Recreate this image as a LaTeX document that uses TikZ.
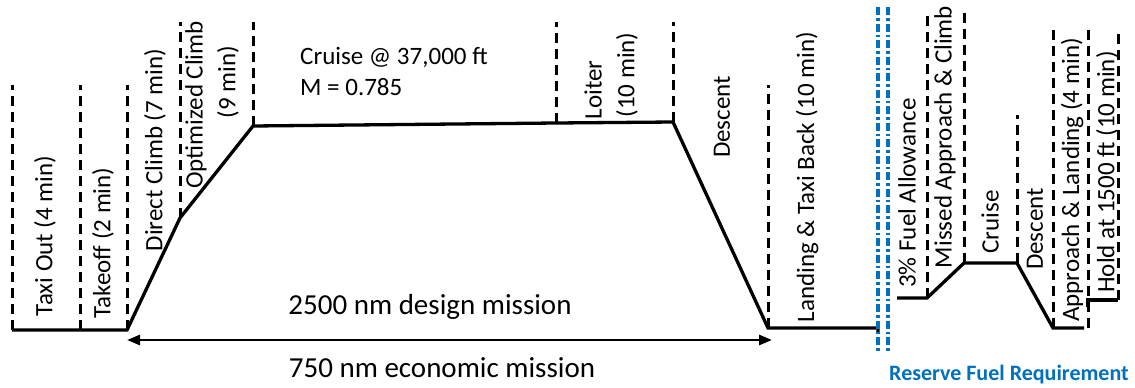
\documentclass[tikz,border=0pt]{standalone}
\usepackage{fontspec}
\setmainfont{Carlito}
\usetikzlibrary{arrows.meta}
\definecolor{resblue}{RGB}{0,112,192}
\tikzset{
  prof/.style={line width=3.3pt, line join=miter},
  sep/.style={line width=3pt, dash pattern=on 10pt off 6pt},
  bluesep/.style={resblue, line width=3.4pt, dash pattern=on 8pt off 3pt on 2.5pt off 3pt},
  vlab/.style={rotate=90, font=\fontsize{25}{25}\selectfont, inner sep=0pt},
  hlab/.style={font=\fontsize{25}{25}\selectfont, inner sep=0pt},
  biglab/.style={font=\fontsize{29}{29}\selectfont, inner sep=0pt},
  reslab/.style={font=\fontsize{22}{22}\selectfont\bfseries, text=resblue, inner sep=0pt},
  rangearrow/.style={line width=2.8pt, {Triangle[length=13pt,width=10pt]}-{Triangle[length=13pt,width=10pt]}}
}
\begin{document}
\begin{tikzpicture}[x=1pt,y=-1pt]
\useasboundingbox (0,0) rectangle (1135,388);
% main profile points
\coordinate (p0) at (12,330);
\coordinate (p1) at (80,330);
\coordinate (p2) at (127,330);
\coordinate (p3) at (180,218);
\coordinate (p4) at (253,126);
\coordinate (p5) at (556,123);
\coordinate (p6) at (673,122);
\coordinate (p7) at (768,328);
\coordinate (p8) at (878,328);
\coordinate (p8b) at (878,333);
% tops of separators
\coordinate (t0) at (12,85);
\coordinate (t1) at (80,85);
\coordinate (t2) at (127,85);
\coordinate (t3) at (180,22);
\coordinate (t4) at (253,22);
\coordinate (t5) at (556,22);
\coordinate (t6) at (673,22);
\coordinate (t7) at (768,85);
% profile
\draw[prof] (p0) -- (p1) -- (p2) -- (p3) -- (p4) -- (p5) -- (p6) -- (p7) -- (p8) -- (p8b);
% separators
\foreach \i in {0,...,7} \draw[sep] (p\i) -- (t\i);
% blue reserve separators
\coordinate (b1t) at (878,7); \coordinate (b1b) at (878,352);
\coordinate (b2t) at (888,7); \coordinate (b2b) at (888,352);
\draw[bluesep] (b1t) -- (b1b);
\draw[bluesep] (b2t) -- (b2b);
% reserve profile
\coordinate (r0) at (897,298);
\coordinate (r1) at (927,298);
\coordinate (r2) at (964,263);
\coordinate (r3) at (1017,263);
\coordinate (r4) at (1053,328);
\coordinate (r5) at (1084,328);
\coordinate (h0) at (1088,307);
\coordinate (h1) at (1088,300);
\coordinate (h2) at (1118,300);
\draw[prof] (r0) -- (r1) -- (r2) -- (r3) -- (r4) -- (r5);
\draw[prof] (h0) -- (h1) -- (h2);
% reserve separators
\coordinate (s1) at (927,13);
\coordinate (s2) at (964,13);
\coordinate (s3) at (1017,115);
\coordinate (s4a) at (1053,25);
\coordinate (s5a) at (1088,25); \coordinate (s5b) at (1088,328);
\coordinate (s6a) at (1118,33);
\draw[sep] (r1) -- (s1);
\draw[sep] (r2) -- (s2);
\draw[sep] (r3) -- (s3);
\draw[sep] (r4) -- (s4a);
\draw[sep] (s5b) -- (s5a);
\draw[sep] (h2) -- (s6a);
% range arrow
\coordinate (a0) at (127,340);
\coordinate (a1) at (772,340);
\draw[rangearrow] (a0) -- (a1);
% labels main
\node[vlab] (lTaxi) at (45,236) {Taxi Out (4 min)};
\node[vlab] (lTake) at (103,243) {Takeoff (2 min)};
\node[vlab] (lDir) at (155,150) {Direct Climb (7 min)};
\node[vlab] (lOpt) at (196,105) {Optimized Climb};
\node[vlab] (lOpt2) at (228,82) {(9 min)};
\node[hlab, anchor=west] (lCr) at (300,57) {Cruise @ 37,000 ft};
\node[hlab, anchor=west] (lM) at (300,87) {M = 0.785};
\node[vlab] (lLo) at (593,90) {Loiter};
\node[vlab] (lLo2) at (627,75) {(10 min)};
\node[vlab] (lDe) at (722,117) {Descent};
\node[vlab] (lLa) at (807,177) {Landing \& Taxi Back (10 min)};
\node[biglab] (lDes) at (430,307) {2500 nm design mission};
\node[biglab] (lEco) at (442,368) {750 nm economic mission};
% reserve labels
\node[vlab] (rA) at (907,193) {3\% Fuel Allowance};
\node[vlab] (rB) at (945,137) {Missed Approach \& Climb};
\node[vlab] (rC) at (990,222) {Cruise};
\node[vlab] (rD) at (1035,229) {Descent};
\node[vlab] (rE) at (1072,180) {Approach \& Landing (4 min)};
\node[vlab] (rF) at (1107,172) {Hold at 1500 ft (10 min)};
\node[reslab] (rT) at (1009,375) {Reserve Fuel Requirement};
\end{tikzpicture}
\end{document}
